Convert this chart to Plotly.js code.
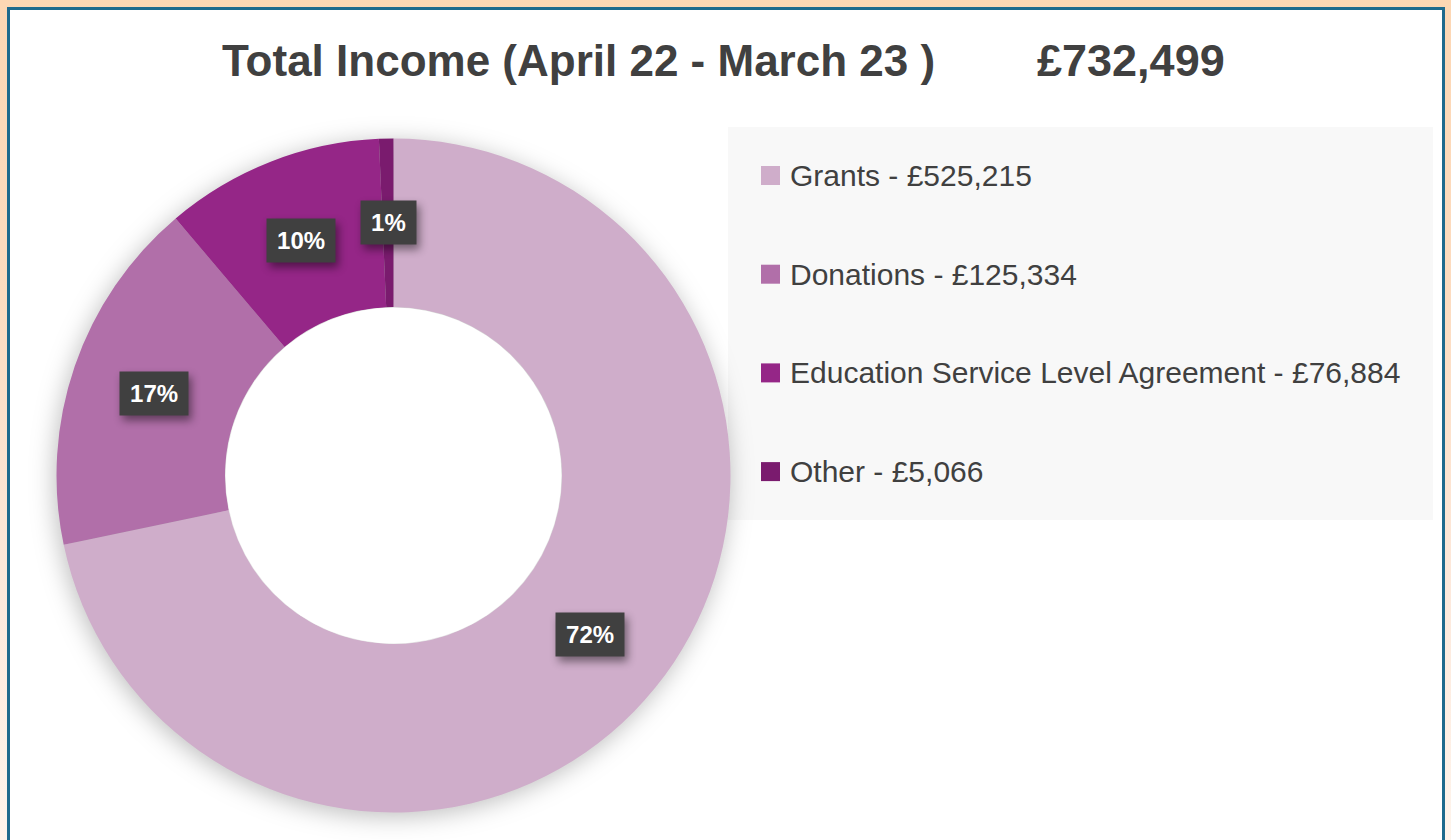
<!DOCTYPE html>
<html>
<head>
<meta charset="utf-8">
<script src="https://cdn.plot.ly/plotly-3.0.1.min.js"></script>
<style>
  html, body { margin: 0; padding: 0; width: 1451px; height: 840px; overflow: hidden; }
  body { background: linear-gradient(to bottom, #fdd7b4 0%, #fddcc0 35%, #fde9dc 70%, #fef4ec 100%); position: relative; }
  #panel { position: absolute; left: 7px; top: 7px; width: 1432px; height: 840px; background: #ffffff;
           border: 3px solid #1f6a8d; border-bottom: none; }
  #chart { position: absolute; left: 0; top: 0; width: 1451px; height: 840px; }
  .pielayer { filter: drop-shadow(-2px 4px 12px rgba(0,0,0,0.26)); }
  .annotation-text-g rect.bg { filter: drop-shadow(3px 5px 4px rgba(0,0,0,0.45)); }
</style>
</head>
<body>
<div id="panel"></div>
<div id="chart"></div>
<script>
// ---- data ----
const categories = ["Grants", "Donations", "Education Service Level Agreement", "Other"];
const values = [525215, 125334, 76884, 5066];
const colors = ["#cfadca", "#b16fa9", "#952687", "#7a1b6e"];
const titleText = "Total Income (April 22 - March 23 )";

// ---- layout geometry (pixels) ----
const W = 1451, H = 840;
const cx = 393.5, cy = 475.5, R = 337, HOLE = 0.5;

const total = values.reduce((a, b) => a + b, 0);
const fmt = v => "£" + v.toLocaleString("en-GB");

const trace = {
  type: "pie",
  labels: categories,
  values: values,
  sort: false,
  direction: "clockwise",
  rotation: 0,
  hole: HOLE,
  textinfo: "none",
  hoverinfo: "label+value+percent",
  marker: { colors: colors, line: { width: 0 } },
  showlegend: false,
  domain: { x: [(cx - R) / W, (cx + R) / W], y: [(H - cy - R) / H, (H - cy + R) / H] }
};

const annotations = [];
const shapes = [];

// white disc over the hole so the ring shadow stays outside only
const rh = R * HOLE - 0.5;
shapes.push({
  type: "circle", xref: "paper", yref: "paper", layer: "above",
  x0: (cx - rh) / W, x1: (cx + rh) / W, y0: 1 - (cy + rh) / H, y1: 1 - (cy - rh) / H,
  fillcolor: "#ffffff", line: { width: 0 }
});

// percentage labels at the middle of each ring segment
let cum = 0;
const rm = R * (1 + HOLE) / 2;
values.forEach((v, i) => {
  const mid = (cum + v / 2) / total * 2 * Math.PI;
  cum += v;
  const px = cx + rm * Math.sin(mid);
  const py = cy - rm * Math.cos(mid);
  const pct = Math.round(v / total * 100) + "%";
  const tw = (pct.length - 1) * 13.4 + 21.4;
  annotations.push({
    xref: "paper", yref: "paper", x: px / W, y: 1 - py / H,
    xanchor: "center", yanchor: "middle", showarrow: false,
    text: "<b>" + pct + "</b>",
    font: { family: "Liberation Sans, Arial, sans-serif", size: 24, color: "#ffffff" },
    bgcolor: "#404040", borderpad: 7, width: tw + 6, height: 29
  });
});

// total next to title
annotations.push({
  xref: "paper", yref: "paper", x: 1035 / W, y: 1 - 61 / H,
  xanchor: "left", yanchor: "middle", showarrow: false,
  text: "<b>" + fmt(total) + "</b>",
  font: { family: "Liberation Sans, Arial, sans-serif", size: 45, color: "#404040" }
});

// legend panel
shapes.push({
  type: "rect", xref: "paper", yref: "paper", layer: "below",
  x0: 728 / W, x1: 1433 / W, y0: 1 - 520 / H, y1: 1 - 127 / H,
  fillcolor: "#f8f8f8", line: { width: 0 }
});
const legTop = 175.5, legStep = 98.7, sq = 19;
categories.forEach((c, i) => {
  const yc = legTop + i * legStep;
  shapes.push({
    type: "rect", xref: "paper", yref: "paper",
    x0: 761 / W, x1: (761 + sq) / W, y0: 1 - (yc + sq / 2) / H, y1: 1 - (yc - sq / 2) / H,
    fillcolor: colors[i], line: { width: 0 }
  });
  annotations.push({
    xref: "paper", yref: "paper", x: 788 / W, y: 1 - yc / H,
    xanchor: "left", yanchor: "middle", showarrow: false,
    text: c + " - " + fmt(values[i]),
    font: { family: "Liberation Sans, Arial, sans-serif", size: 30, color: "#404040" }
  });
});

const layout = {
  width: W, height: H,
  margin: { l: 0, r: 0, t: 0, b: 0 },
  paper_bgcolor: "rgba(0,0,0,0)",
  plot_bgcolor: "rgba(0,0,0,0)",
  title: {
    text: "<b>" + titleText + "</b>",
    x: 222 / W, xref: "paper", xanchor: "left",
    y: 1 - 61 / H, yref: "container", yanchor: "middle",
    font: { family: "Liberation Sans, Arial, sans-serif", size: 44, color: "#404040" }
  },
  showlegend: false,
  annotations: annotations,
  shapes: shapes
};

Plotly.newPlot("chart", [trace], layout, { displayModeBar: false, responsive: false });
</script>
</body>
</html>
